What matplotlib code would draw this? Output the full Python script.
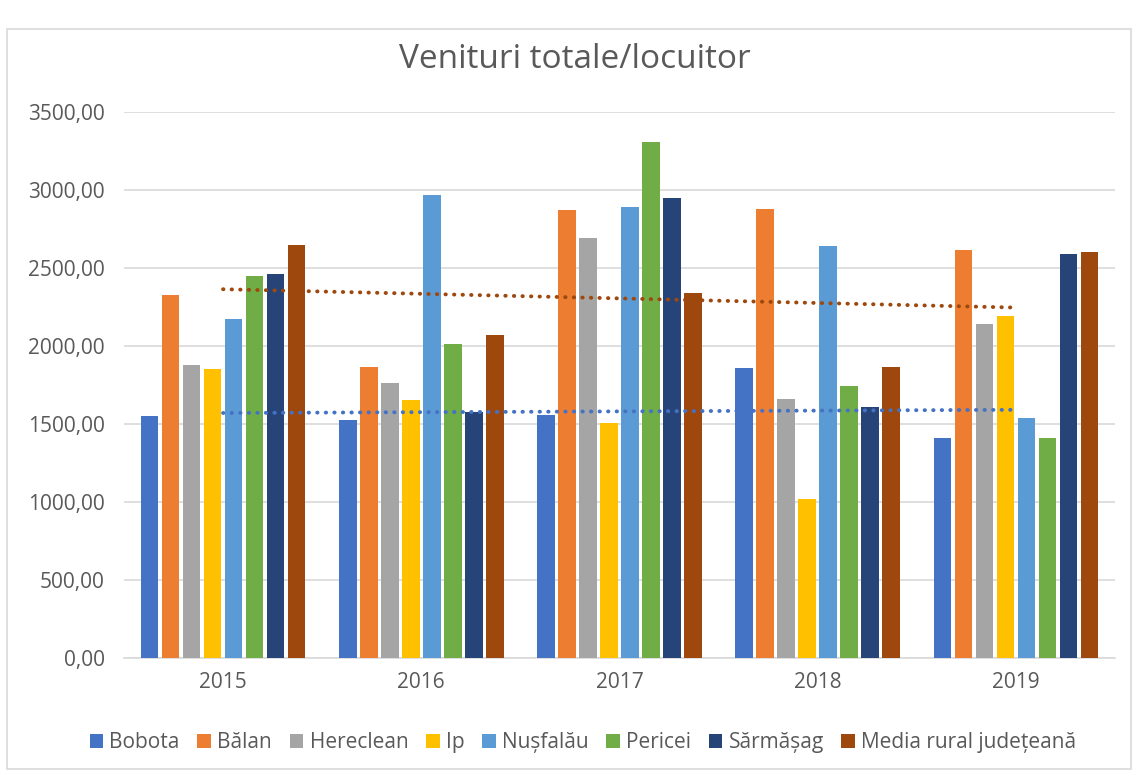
import numpy as np
import matplotlib.pyplot as plt
from matplotlib.patches import Rectangle
from matplotlib.ticker import FuncFormatter

plt.rcParams['font.family'] = ['Open Sans', 'DejaVu Sans']

years = ['2015', '2016', '2017', '2018', '2019']
series = ['Bobota', 'Bălan', 'Hereclean', 'Ip', 'Nușfalău', 'Pericei', 'Sărmășag',
          'Media rural județeană']
bobota = [1551, 1526, 1558, 1859, 1410]
balan = [2327, 1865, 2872, 2878, 2615]
hereclean = [1878, 1763, 2692, 1660, 2141]
ip = [1853, 1654, 1506, 1020, 2192]
nusfalau = [2173, 2968, 2891, 2641, 1538]
pericei = [2449, 2013, 3308, 1744, 1410]
sarmasag = [2462, 1577, 2949, 1609, 2590]
media = [2647, 2071, 2340, 1865, 2603]
values = [bobota, balan, hereclean, ip, nusfalau, pericei, sarmasag, media]
colors = ['#4472C4', '#ED7D31', '#A5A5A5', '#FFC000', '#5B9BD5', '#70AD47',
          '#264478', '#9E480E']

fig = plt.figure(figsize=(11.32, 7.71), dpi=100)
ax = fig.add_axes([0.1095, 0.1466, 0.8755, 0.7081])

x = np.arange(len(years))
slot = 0.106
for i, (name, vals, c) in enumerate(zip(series, values, colors)):
    off = (i - 3.5) * slot
    ax.bar(x + off, vals, width=slot * 0.84, color=c, label=name, zorder=3)

# linear trend lines (Bobota and Media rural)
for vals, c in [(media, '#9E480E'), (bobota, '#4472C4')]:
    k, b = np.polyfit(x, vals, 1)
    ax.plot(x, k * x + b, color=c, lw=2.8, linestyle=(0, (0.1, 2.1)),
            dash_capstyle='round', zorder=4)

ax.set_xlim(-0.5, 4.5)
ax.set_ylim(0, 3500)
ax.set_yticks(np.arange(0, 3501, 500))
ax.yaxis.set_major_formatter(FuncFormatter(lambda v, p: f'{v:.2f}'.replace('.', ',')))
ax.set_xticks(x)
ax.set_xticklabels(years)
ax.grid(axis='y', color='#D9D9D9', lw=1.2, zorder=0)
for s in ['top', 'right', 'left']:
    ax.spines[s].set_visible(False)
ax.spines['bottom'].set_color('#D9D9D9')
ax.spines['bottom'].set_linewidth(1.2)
ax.tick_params(axis='both', length=0, labelsize=15, labelcolor='#595959')
ax.tick_params(axis='y', pad=14)
ax.tick_params(axis='x', pad=10)

fig.text(0.508, 0.923, 'Venituri totale/locuitor', ha='center', va='center',
         fontsize=24, color='#595959')

fig.legend(loc='center', bbox_to_anchor=(0.515, 0.037), ncol=8, frameon=False,
           fontsize=15, labelcolor='#595959', handlelength=0.65, handleheight=0.65,
           handletextpad=0.3, columnspacing=0.85)

fig.patches.append(Rectangle((7 / 1132, 0.002), 1 - 8 / 1132, 1 - 29 / 771 - 0.002,
                             transform=fig.transFigure, fill=False,
                             edgecolor='#D9D9D9', lw=1.2))

fig.savefig('out.png', dpi=100)
